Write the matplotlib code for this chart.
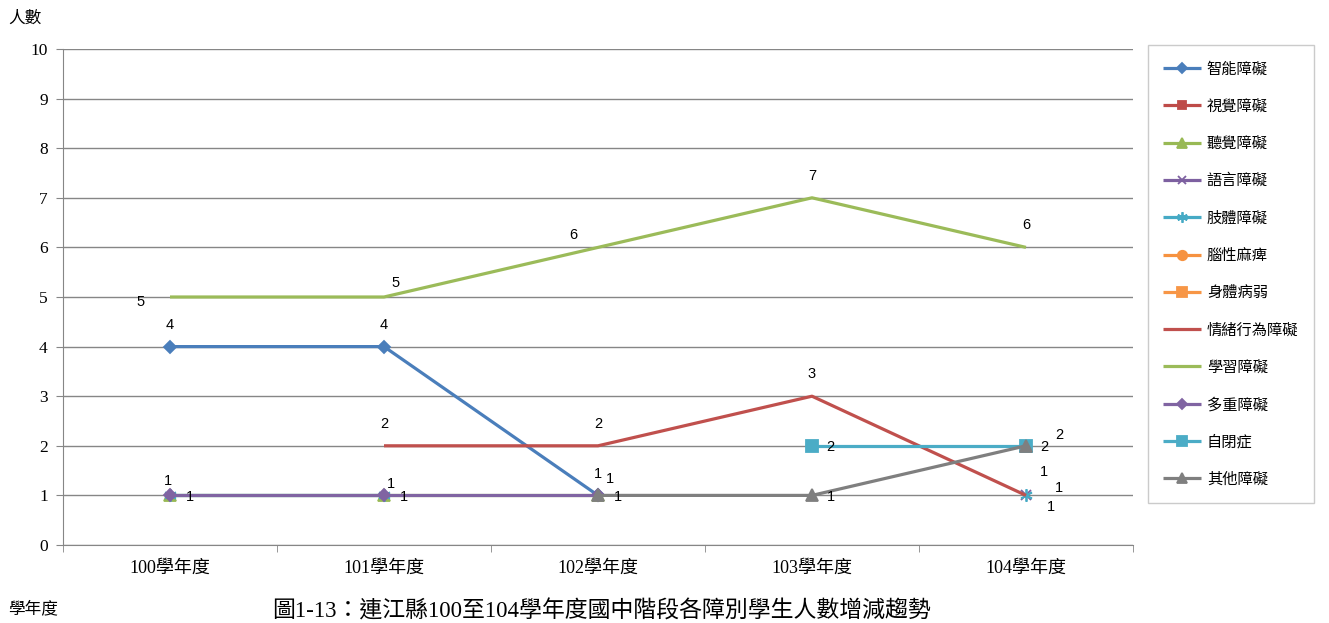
import matplotlib
matplotlib.use('Agg')
import matplotlib.pyplot as plt
import numpy as np

plt.rcParams['font.family'] = ['Liberation Serif', 'Noto Sans CJK TC']

nan = np.nan

# categories (school years)
years = ['100學年度', '101學年度', '102學年度', '103學年度', '104學年度']

# series values, one list per disability category
intellectual = [4, 4, 1, nan, nan]
visual = [nan, nan, nan, nan, nan]
hearing = [1, 1, 1, nan, nan]
speech = [nan, nan, nan, nan, 1]
physical = [1, 1, nan, nan, 1]
cerebral = [nan, nan, nan, nan, nan]
health = [nan, nan, nan, nan, nan]
emotional = [nan, 2, 2, 3, 1]
learning = [5, 5, 6, 7, 6]
multiple = [1, 1, 1, nan, nan]
autism = [nan, nan, nan, 2, 2]
other = [nan, nan, 1, 1, 2]

names = ['智能障礙', '視覺障礙', '聽覺障礙', '語言障礙', '肢體障礙', '腦性麻痺',
         '身體病弱', '情緒行為障礙', '學習障礙', '多重障礙', '自閉症', '其他障礙']
series = [intellectual, visual, hearing, speech, physical, cerebral,
          health, emotional, learning, multiple, autism, other]

# style: colour, marker, marker size
styles = [
    ('#4A7EBB', 'D', 6),
    ('#BE4B48', 's', 7),
    ('#98B954', '^', 8),
    ('#7D60A0', 'x', 7),
    ('#46AAC5', (6, 2, 0), 9),
    ('#F69240', 'o', 8),
    ('#F79646', 's', 8),
    ('#C0504D', None, 0),
    ('#9BBB59', None, 0),
    ('#8064A2', 'D', 6),
    ('#4BACC6', 's', 8),
    ('#7F7F7F', '^', 8),
]

# data label offsets in pixels (None = no label shown)
label_offsets = {
    '智能障礙': [(0, 22), (0, 22), (0, 21), None, None],
    '聽覺障礙': [(20, -2), (20, -2), (12, 16), None, None],
    '語言障礙': [None, None, None, None, (33, 7)],
    '肢體障礙': [None, None, None, None, (25, -12)],
    '情緒行為障礙': [None, (0, 22), (0, 22), (0, 22), (18, 23)],
    '學習障礙': [(-29, -5), (12, 14), (-25, 12), (0, 22), (0, 22)],
    '多重障礙': [(-2, 14), (7, 11), None, None, None],
    '自閉症': [None, None, None, (18, -1), (18, -1)],
    '其他障礙': [None, None, (20, -2), (19, -2), (33, 11)],
}

fig = plt.figure(figsize=(13.29, 6.23), dpi=100)
ax = fig.add_axes([63 / 1329, 1 - 545 / 623, 1070 / 1329, 496 / 623])

x = np.arange(len(years))
handles = []
for name, vals, (col, mk, ms) in zip(names, series, styles):
    h, = ax.plot(x, vals, color=col, lw=2.3, marker=mk, ms=ms,
                 markeredgecolor=col, markerfacecolor=col, mew=1.3,
                 solid_capstyle='butt', label=name, zorder=3)
    handles.append(h)
    offs = label_offsets.get(name)
    if offs is None:
        continue
    for xi, v, off in zip(x, vals, offs):
        if off is None or np.isnan(v):
            continue
        ax.annotate(f'{int(v)}', (xi, v), xytext=off, textcoords='offset pixels',
                    ha='center', va='center', fontsize=10.5,
                    family=['Liberation Sans', 'Noto Sans CJK TC'], zorder=5)

ax.set_xlim(-0.5, 4.5)
ax.set_ylim(0, 10)
ax.set_yticks(range(0, 11))
ax.yaxis.grid(True, color='#868686', lw=1)
ax.set_axisbelow(True)
ax.set_xticks(x)
ax.set_xticklabels(years, fontsize=13)
ax.set_xticks(np.arange(-0.5, 5, 1), minor=True)
ax.tick_params(axis='x', which='major', length=0, pad=11)
ax.tick_params(axis='x', which='minor', length=5, color='#868686')
ax.tick_params(axis='y', length=5, color='#868686', labelsize=12.5, pad=6)
for s in ['top', 'right']:
    ax.spines[s].set_visible(False)
for s in ['left', 'bottom']:
    ax.spines[s].set_color('#868686')

leg = fig.legend(handles=handles, loc='upper left',
                 bbox_to_anchor=(1148 / 1329, 1 - 45 / 623),
                 prop={'family': ['Noto Sans CJK TC'], 'size': 11},
                 labelspacing=1.33, handlelength=2.5, handletextpad=0.35,
                 borderpad=1.0, borderaxespad=0, fancybox=False,
                 edgecolor='#BFBFBF', markerscale=0.85)
leg.get_frame().set_linewidth(1)

fig.text(8 / 1329, 1 - 18 / 623, '人數', fontsize=12, va='center', ha='left',
         family=['Noto Sans CJK TC'])
fig.text(8 / 1329, 1 - 609 / 623, '學年度', fontsize=12, va='center', ha='left',
         family=['Noto Sans CJK TC'])
fig.text(601 / 1329, 1 - 611 / 623, '圖1-13：連江縣100至104學年度國中階段各障別學生人數增減趨勢',
         fontsize=16.5, va='center', ha='center',
         family=['Liberation Serif', 'Noto Sans CJK TC'])

fig.savefig('out.png', dpi=100)
